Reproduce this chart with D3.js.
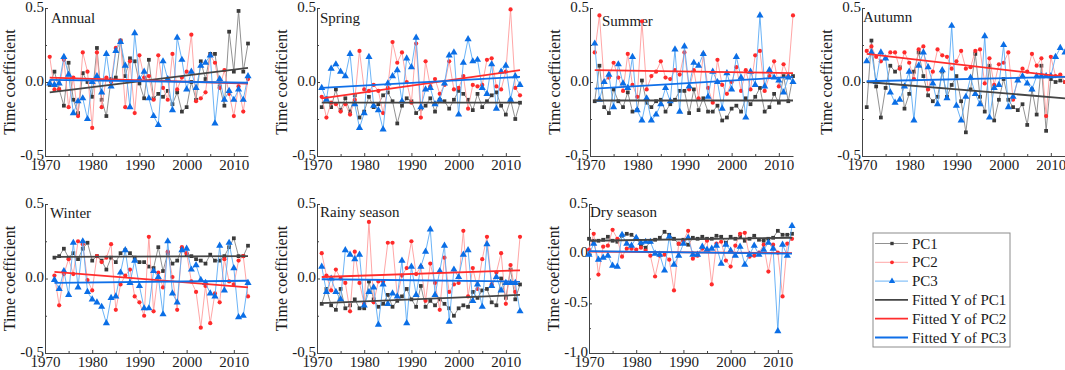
<!DOCTYPE html>
<html>
<head>
<meta charset="utf-8">
<style>
  body { margin: 0; background: #fff; }
  svg { display: block; }
  svg text { font-family: "Liberation Serif", "Times New Roman", serif; }
</style>
</head>
<body>
<div id="chart"></div>
<script src="https://d3js.org/d3.v7.min.js"></script>
<script>
// ---- data ----
const seasons = ['Annual', 'Spring', 'Summer', 'Autumn', 'Winter', 'Rainy season', 'Dry season'];
const firstYear = [1971, 1971, 1971, 1971, 1972, 1971, 1970];
const xTicks = [1970, 1980, 1990, 2000, 2010];
const xMinorTicks = [1975, 1985, 1995, 2005];
const yTicksStd = [-0.5, 0, 0.5];
const yTicksDry = [-1.0, -0.5, 0, 0.5];
const seriesNames = ['PC1', 'PC2', 'PC3'];
const fitNames = ['Fitted Y of PC1', 'Fitted Y of PC2', 'Fitted Y of PC3'];

const annualPC1 = [-0.02, 0.07, -0.05, -0.16, 0.13, -0.12, -0.21, 0.06, 0.0, -0.10, 0.23, -0.12, -0.23, 0.02, 0.03, 0.28, 0.04, 0.16, 0.14, -0.01, -0.11, 0.15, -0.11, -0.08, -0.10, -0.06, -0.15, -0.07, -0.20, -0.17, 0.00, -0.12, 0.14, 0.02, 0.19, 0.19, -0.03, -0.16, 0.34, 0.07, 0.48, 0.07, 0.26];
const annualPC2 = [0.17, -0.05, -0.05, 0.15, -0.17, 0.03, -0.23, 0.20, 0.07, -0.31, 0.20, -0.17, 0.03, 0.0, 0.23, 0.28, -0.17, 0.14, -0.21, 0.18, 0.03, 0.04, -0.12, 0.18, -0.04, -0.12, 0.19, -0.05, 0.03, 0.07, 0.32, -0.13, -0.11, -0.07, 0.18, 0.13, -0.04, 0.08, -0.08, -0.23, -0.03, -0.20, 0.02];
const annualPC3 = [-0.01, -0.02, -0.01, 0.17, 0.05, -0.21, -0.13, -0.11, -0.25, 0.0, 0.04, -0.07, 0.19, -0.03, 0.21, 0.27, 0.11, -0.17, 0.33, 0.02, 0.07, -0.11, -0.23, -0.29, 0.14, 0.02, -0.19, 0.30, 0.15, -0.05, 0.07, -0.04, 0.11, 0.13, 0.18, -0.28, 0.02, -0.12, -0.06, -0.12, -0.05, -0.12, 0.04];

const springPC1 = [-0.17, -0.11, -0.17, -0.05, -0.19, -0.11, -0.20, -0.09, -0.24, -0.20, -0.10, -0.17, -0.15, -0.09, -0.07, -0.13, -0.28, -0.16, -0.11, -0.13, -0.21, -0.18, -0.16, -0.11, -0.20, -0.12, -0.13, -0.18, -0.12, -0.06, -0.08, -0.12, -0.19, -0.08, -0.17, -0.13, -0.09, -0.07, -0.16, -0.22, -0.12, -0.25, -0.14];
const springPC2 = [-0.10, -0.24, -0.14, -0.15, -0.20, -0.15, -0.22, -0.12, 0.21, -0.05, -0.06, -0.02, -0.06, -0.21, -0.04, 0.27, 0.13, 0.20, 0.0, -0.14, 0.26, -0.24, 0.14, -0.03, 0.02, -0.08, -0.02, 0.14, -0.05, -0.04, 0.04, -0.18, -0.02, -0.03, -0.02, 0.15, 0.16, -0.03, -0.05, 0.07, 0.49, -0.04, -0.09];
const springPC3 = [-0.04, -0.12, 0.09, 0.12, 0.07, 0.04, 0.19, -0.15, -0.31, -0.21, 0.17, -0.16, -0.19, -0.32, -0.01, 0.04, 0.08, -0.13, 0.16, 0.10, 0.30, -0.17, -0.05, -0.04, -0.15, -0.12, -0.01, 0.18, 0.20, -0.22, 0.13, 0.29, 0.14, 0.15, -0.04, -0.08, 0.12, -0.18, 0.07, 0.11, -0.12, 0.04, -0.02];

const summerPC1 = [-0.13, 0.11, -0.17, -0.21, -0.05, -0.13, -0.17, -0.07, -0.20, -0.19, 0.01, -0.14, -0.17, -0.13, -0.12, -0.20, -0.15, -0.12, -0.06, -0.06, -0.21, -0.05, -0.19, -0.11, -0.20, -0.20, -0.16, -0.26, -0.24, -0.18, -0.16, -0.20, -0.11, -0.15, -0.10, -0.04, -0.20, -0.17, -0.08, -0.14, 0.04, -0.13, 0.04];
const summerPC2 = [0.20, 0.45, 0.0, 0.03, 0.13, 0.03, -0.06, 0.19, -0.02, -0.10, 0.41, -0.05, 0.04, 0.07, 0.14, 0.03, 0.02, 0.08, 0.05, 0.20, -0.05, 0.08, -0.11, 0.19, -0.04, -0.14, 0.15, -0.02, -0.08, 0.0, 0.10, -0.06, 0.08, -0.05, 0.18, 0.21, -0.06, 0.04, 0.14, -0.03, 0.12, 0.04, 0.45];
const summerPC3 = [0.26, -0.12, 0.0, 0.05, -0.17, 0.12, -0.01, -0.04, 0.17, -0.19, -0.26, -0.11, -0.26, -0.22, -0.15, -0.04, -0.13, 0.22, -0.20, 0.24, -0.03, 0.13, 0.11, 0.19, -0.10, 0.07, 0.0, -0.18, 0.06, -0.05, 0.17, 0.03, -0.24, 0.07, -0.02, 0.45, -0.03, 0.08, 0.03, 0.01, -0.07, 0.03, 0.0];

const autumnPC1 = [-0.17, 0.28, -0.03, -0.24, -0.04, 0.11, 0.07, 0.10, -0.18, -0.08, 0.07, 0.20, 0.04, -0.09, -0.13, -0.10, 0.07, -0.10, -0.02, 0.04, -0.13, -0.34, -0.05, 0.19, -0.10, -0.20, 0.11, -0.26, -0.12, 0.02, -0.12, -0.17, -0.19, -0.15, -0.29, -0.05, -0.22, 0.11, -0.33, 0.02, 0.0, 0.01, 0.0];
const autumnPC2 = [0.21, 0.24, 0.17, 0.14, 0.16, 0.20, 0.20, 0.09, 0.20, 0.13, 0.02, 0.22, 0.24, -0.05, 0.07, 0.22, 0.18, 0.17, 0.09, 0.14, 0.21, 0.09, 0.10, 0.21, 0.22, -0.01, 0.16, -0.02, 0.12, 0.13, 0.20, -0.12, 0.02, 0.09, 0.07, 0.19, 0.11, 0.16, -0.23, 0.17, 0.04, 0.05, 0.0];
const autumnPC3 = [0.14, 0.20, 0.0, 0.20, 0.16, -0.07, -0.14, -0.12, -0.03, 0.07, -0.26, 0.11, 0.20, 0.10, -0.01, -0.15, 0.08, -0.11, 0.38, -0.16, -0.26, -0.10, 0.03, -0.08, -0.15, 0.31, -0.24, -0.04, -0.02, 0.25, -0.17, -0.10, 0.01, 0.04, -0.01, -0.05, 0.04, 0.04, 0.04, 0.04, 0.17, 0.23, 0.20];

const winterPC1 = [0.14, 0.15, 0.20, 0.14, 0.17, 0.13, 0.20, 0.24, 0.12, 0.15, 0.12, 0.06, 0.14, 0.11, 0.17, 0.19, 0.17, 0.14, 0.11, 0.11, 0.08, 0.07, 0.21, 0.05, 0.17, 0.10, 0.12, 0.20, 0.16, 0.15, 0.13, 0.12, 0.10, 0.16, 0.12, 0.12, 0.15, 0.21, 0.27, 0.15, 0.15, 0.22];
const winterPC2 = [0.02, -0.18, 0.03, 0.13, 0.03, 0.25, 0.23, -0.01, -0.08, 0.15, 0.11, 0.14, 0.23, -0.21, -0.04, 0.02, 0.06, -0.12, -0.16, -0.25, 0.28, -0.22, 0.04, -0.06, 0.18, 0.01, -0.21, 0.21, 0.17, -0.02, -0.09, -0.33, -0.05, -0.30, -0.10, -0.16, 0.13, -0.02, -0.04, 0.12, 0.15, -0.12];
const winterPC3 = [-0.01, -0.07, 0.05, -0.11, 0.24, -0.06, 0.25, -0.09, -0.14, -0.16, -0.19, -0.30, -0.13, -0.12, 0.04, 0.19, -0.03, 0.12, -0.05, -0.20, -0.20, 0.05, 0.01, -0.24, 0.25, -0.10, -0.16, 0.19, 0.20, 0.06, 0.09, -0.01, -0.03, -0.10, -0.12, 0.22, -0.08, 0.24, 0.07, -0.26, -0.25, -0.03];

const rainyPC1 = [-0.17, -0.07, -0.18, -0.21, -0.07, -0.20, -0.18, -0.14, -0.20, -0.20, -0.02, -0.14, -0.19, -0.17, -0.11, -0.19, -0.15, -0.12, -0.07, -0.14, -0.19, -0.05, -0.19, -0.15, -0.18, -0.14, -0.17, -0.20, -0.25, -0.20, -0.18, -0.19, -0.09, -0.13, -0.08, -0.07, -0.16, -0.18, 0.0, -0.13, 0.06, -0.14, -0.04];
const rainyPC2 = [0.17, 0.02, -0.08, 0.06, 0.0, -0.03, -0.22, 0.18, -0.03, -0.17, 0.38, -0.16, -0.02, -0.02, 0.24, 0.24, -0.12, 0.02, 0.07, 0.25, 0.03, 0.08, -0.15, 0.10, -0.03, -0.21, 0.14, -0.09, -0.04, -0.03, 0.32, -0.12, 0.07, -0.07, 0.13, 0.28, -0.04, 0.04, 0.17, -0.17, 0.09, -0.09, 0.28];
const rainyPC3 = [0.08, -0.09, 0.0, -0.09, -0.14, 0.19, 0.16, 0.13, 0.16, -0.18, -0.09, -0.06, -0.31, -0.04, -0.17, -0.10, -0.12, 0.12, -0.30, 0.08, -0.11, 0.08, 0.18, 0.33, -0.11, 0.05, 0.22, -0.29, 0.06, 0.01, 0.16, 0.19, -0.15, -0.04, -0.19, 0.23, -0.05, 0.01, -0.08, -0.03, -0.03, -0.03, -0.22];

const dryPC1 = [0.15, 0.13, 0.13, 0.14, 0.17, 0.13, 0.12, 0.18, 0.20, 0.19, 0.15, 0.09, 0.06, 0.12, 0.14, 0.16, 0.22, 0.19, 0.15, 0.10, 0.14, 0.09, 0.16, 0.15, 0.17, 0.15, 0.15, 0.18, 0.17, 0.11, 0.17, 0.15, 0.17, 0.13, 0.15, 0.18, 0.14, 0.13, 0.15, 0.16, 0.23, 0.19, 0.19, 0.20];
const dryPC2 = [0.04, 0.20, -0.21, 0.07, 0.08, 0.24, 0.15, -0.03, 0.05, 0.05, 0.04, 0.06, 0.03, -0.02, -0.23, -0.02, -0.01, -0.06, -0.37, 0.10, 0.13, 0.23, -0.05, -0.02, 0.05, 0.13, -0.31, 0.10, 0.12, -0.07, -0.13, 0.08, 0.20, 0.21, -0.03, -0.02, 0.01, 0.09, -0.18, 0.09, 0.01, -0.43, 0.10, 0.15];
const dryPC3 = [-0.01, 0.10, -0.06, -0.04, -0.02, -0.12, -0.13, 0.19, 0.10, 0.08, 0.16, 0.11, 0.12, 0.12, 0.0, -0.01, -0.17, 0.17, -0.11, -0.02, 0.10, 0.16, -0.01, -0.01, 0.07, 0.04, 0.05, 0.08, -0.10, 0.09, 0.03, -0.02, 0.07, -0.11, -0.01, 0.08, -0.01, 0.04, 0.11, 0.05, -0.78, 0.09, -0.02, 0.28];

// fitted trend lines: [value at first year, value at 2013] for PC1, PC2, PC3
const annualFit = [[-0.07, 0.095], [0.03, -0.01], [0.015, -0.005]];
const springFit = [[-0.14, -0.14], [-0.11, 0.08], [-0.04, 0.035]];
const summerFit = [[-0.125, -0.125], [0.08, 0.06], [-0.045, 0.035]];
const autumnFit = [[0.0, -0.11], [0.19, 0.035], [0.005, 0.035]];
const winterFit = [[0.145, 0.15], [0.045, -0.06], [-0.03, -0.015]];
const rainyFit = [[-0.165, -0.11], [0.01, 0.055], [-0.005, -0.02]];
const dryFit = [[0.13, 0.16], [0.02, 0.005], [0.025, 0.0]];

const seasonSeries = [
  [annualPC1, annualPC2, annualPC3],
  [springPC1, springPC2, springPC3],
  [summerPC1, summerPC2, summerPC3],
  [autumnPC1, autumnPC2, autumnPC3],
  [winterPC1, winterPC2, winterPC3],
  [rainyPC1, rainyPC2, rainyPC3],
  [dryPC1, dryPC2, dryPC3]
];
const seasonFits = [annualFit, springFit, summerFit, autumnFit, winterFit, rainyFit, dryFit];

// ---- layout / style ----
const width = 1065, height = 370;
const panelLeft = [45, 317, 590, 862, 45, 317, 589];
const panelWidth = 203;
const rowY = [[156, 8], [353, 204]];
const titleDx = [6, 3, 12, 1, 5, 3, 1];
const titleY = [23, 23, 26, 22, 218, 217, 217];
const lineColors = ['#858585', '#ff9c9c', '#5aaaf5'];
const markColors = ['#3a3a3a', '#ff2b2b', '#0a6ee6'];
const fitColors = ['#454545', '#ff2d2d', '#0f6fe8'];
const symbols = [d3.symbolSquare, d3.symbolCircle, d3.symbolTriangle];
const symSizes = [14, 14, 22];
const textColor = '#1a1a1a';
const axisColor = '#444';
const serif = '"Liberation Serif", "Times New Roman", serif';

const svg = d3.select('#chart').append('svg')
  .attr('width', width)
  .attr('height', height)
  .style('font-family', serif);

function styleAxis(sel) {
  sel.attr('font-family', serif);
  sel.select('.domain').attr('stroke', axisColor);
  sel.selectAll('.tick line').attr('stroke', axisColor);
  sel.selectAll('.tick text').attr('fill', textColor).style('font-size', '15px');
}

seasons.forEach((name, i) => {
  const row = i < 4 ? 0 : 1;
  const x0 = panelLeft[i];
  const yDomain = i === 6 ? [-1.0, 0.5] : [-0.5, 0.5];
  const x = d3.scaleLinear().domain([1970, 2013]).range([x0, x0 + panelWidth]);
  const y = d3.scaleLinear().domain(yDomain).range(rowY[row]);
  const g = svg.append('g');
  const yBottom = rowY[row][0];

  // x axis
  const xa = g.append('g')
    .attr('transform', `translate(0,${yBottom})`)
    .call(d3.axisBottom(x).tickValues(xTicks).tickSize(-3).tickSizeOuter(0).tickPadding(3).tickFormat(d3.format('d')));
  styleAxis(xa);
  const xm = g.append('g')
    .attr('transform', `translate(0,${yBottom})`)
    .call(d3.axisBottom(x).tickValues(xMinorTicks).tickSize(-2).tickSizeOuter(0).tickFormat(''));
  xm.select('.domain').remove();
  xm.selectAll('line').attr('stroke', axisColor);

  // y axis
  const yTicks = i === 6 ? yTicksDry : yTicksStd;
  const ya = g.append('g')
    .attr('transform', `translate(${x0},0)`)
    .call(d3.axisLeft(y).tickValues(yTicks).tickSize(-3).tickSizeOuter(0).tickPadding(1).tickFormat(d => d.toFixed(1)));
  styleAxis(ya);
  ya.selectAll('.tick text').attr('dy', '0.2em');
  const yMinor = d3.range(yDomain[0] + 0.25, yDomain[1], 0.5);
  const ym = g.append('g')
    .attr('transform', `translate(${x0},0)`)
    .call(d3.axisLeft(y).tickValues(yMinor).tickSize(-2).tickSizeOuter(0).tickFormat(''));
  ym.select('.domain').remove();
  ym.selectAll('line').attr('stroke', axisColor);

  // y label
  g.append('text')
    .attr('transform', `translate(${x0 - 30},${(rowY[row][0] + rowY[row][1]) / 2}) rotate(-90)`)
    .attr('text-anchor', 'middle')
    .attr('fill', textColor)
    .style('font-size', '16px')
    .text('Time coefficient');

  // title
  g.append('text')
    .attr('x', x0 + titleDx[i])
    .attr('y', titleY[i])
    .attr('fill', textColor)
    .style('font-size', '15px')
    .text(name);

  // series
  seasonSeries[i].forEach((vals, k) => {
    const pts = vals.map((v, j) => ({ year: firstYear[i] + j, value: v }));
    g.append('path')
      .datum(pts)
      .attr('fill', 'none')
      .attr('stroke', lineColors[k])
      .attr('stroke-width', 0.9)
      .attr('d', d3.line().x(d => x(d.year)).y(d => y(d.value)));
    g.selectAll(null)
      .data(pts)
      .join('path')
      .attr('transform', d => `translate(${x(d.year)},${y(d.value)})`)
      .attr('fill', markColors[k])
      .attr('d', d3.symbol().type(symbols[k]).size(symSizes[k]));
  });

  // fitted lines
  seasonFits[i].forEach((f, k) => {
    g.append('line')
      .attr('x1', x(firstYear[i]))
      .attr('x2', x(2013))
      .attr('y1', y(f[0]))
      .attr('y2', y(f[1]))
      .attr('stroke', fitColors[k])
      .attr('stroke-width', 1.8);
  });
});

// ---- legend ----
const legend = svg.append('g').attr('transform', 'translate(873,233)');
legend.append('rect')
  .attr('width', 137)
  .attr('height', 114)
  .attr('fill', 'white')
  .attr('stroke', '#8c8c8c')
  .attr('stroke-width', 1);

const legendItems = seriesNames.map((n, k) => ({ name: n, color: lineColors[k], mark: k, width: 0.9 }))
  .concat(fitNames.map((n, k) => ({ name: n, color: fitColors[k], mark: null, width: 1.8 })));

legendItems.forEach((it, j) => {
  const ly = 10.5 + j * 18.8;
  legend.append('line')
    .attr('x1', 2).attr('x2', 35)
    .attr('y1', ly).attr('y2', ly)
    .attr('stroke', it.color)
    .attr('stroke-width', it.width);
  if (it.mark !== null) {
    legend.append('path')
      .attr('transform', `translate(19,${ly})`)
      .attr('fill', markColors[it.mark])
      .attr('d', d3.symbol().type(symbols[it.mark]).size(symSizes[it.mark] * 0.8));
  }
  legend.append('text')
    .attr('x', 39)
    .attr('y', ly + 5)
    .attr('fill', textColor)
    .style('font-size', '15px')
    .text(it.name);
});
</script>
</body>
</html>
